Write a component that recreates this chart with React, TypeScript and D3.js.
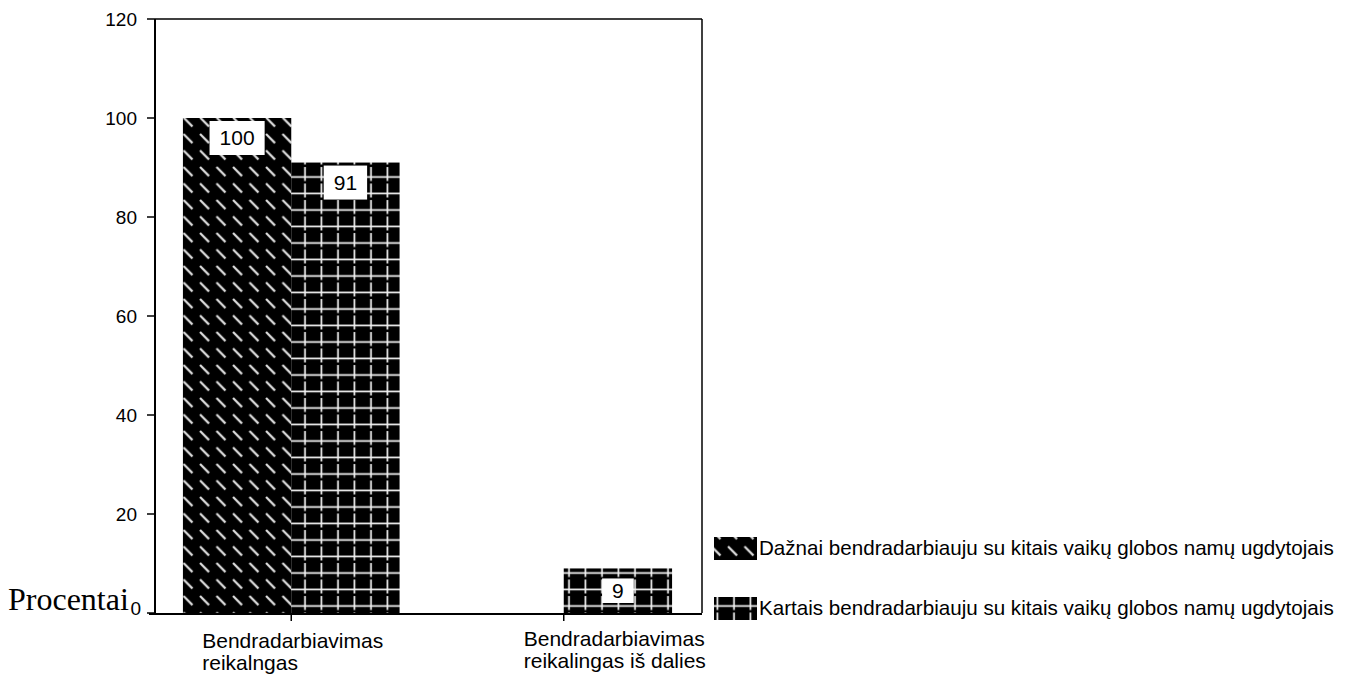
import React from 'react'
import * as d3 from 'd3'

const categories = [
    ['Bendradarbiavimas', 'reikalngas'],
    ['Bendradarbiavimas', 'reikalingas iš dalies'],
]
const seriesNames = [
    'Dažnai bendradarbiauju su kitais vaikų globos namų ugdytojais',
    'Kartais bendradarbiauju su kitais vaikų globos namų ugdytojais',
]
const seriesPatterns = ['diag', 'cross']
const daznai = [100, 0]
const kartais = [91, 9]
const yTicks = [0, 20, 40, 60, 80, 100, 120]
const yTitle = 'Procentai'

const W = 1356
const H = 674
const plot = { left: 155, right: 702, top: 19, bottom: 613 }
const font = 'Arial, "Liberation Sans", sans-serif'

export default function App() {
    const series = [daznai, kartais]
    const catKeys = categories.map((c, i) => `c${i}`)

    const x = d3.scaleBand<string>()
        .domain(catKeys)
        .range([plot.left, plot.right - 2])
        .paddingInner(0.205)
        .paddingOuter(0.1025)
    const xs = d3.scaleBand<number>()
        .domain(series.map((s, i) => i))
        .range([0, x.bandwidth()])
    const y = d3.scaleLinear().domain([0, 120]).range([plot.bottom, plot.top])

    // Excel-ish label placement, the two labels do not sit the same way
    const labelLeft = [-89, -40]
    const labelTop = [648, 646]

    return (
        <svg width={W} height={H} style={{ position: 'absolute', left: 0, top: 0, background: '#fff' }}>
            <defs>
                <pattern id="diag" patternUnits="userSpaceOnUse" width={16.5} height={16.5}>
                    <rect width={16.5} height={16.5} fill="#000" />
                    <line x1={2} y1={2} x2={11} y2={11} stroke="#e0e0e0" strokeWidth={2.2} />
                </pattern>
                <pattern id="cross" patternUnits="userSpaceOnUse" width={16.5} height={16.5}>
                    <rect width={16.5} height={16.5} fill="#000" />
                    <line x1={0} y1={12} x2={16.5} y2={12} stroke="#f4f4f4" strokeWidth={1.7} />
                    <line x1={8} y1={2} x2={8} y2={16} stroke="#f4f4f4" strokeWidth={1.7} />
                </pattern>
            </defs>

            {/* frame */}
            <line x1={plot.left} y1={plot.top} x2={plot.right} y2={plot.top} stroke="#000" strokeWidth={1.5} />
            <line x1={plot.right} y1={plot.top} x2={plot.right} y2={plot.bottom} stroke="#000" strokeWidth={1.5} />

            {/* bars */}
            {catKeys.map((k, ci) =>
                series.map((s, si) => {
                    const v = s[ci]
                    const bx = x(k)! + xs(si)!
                    const by = y(v)
                    const h = y(0) - by
                    return (
                        <rect key={`b${ci}-${si}`} x={bx} y={by} width={xs.bandwidth()} height={h}
                              fill={`url(#${seriesPatterns[si]})`} />
                    )
                })
            )}

            {/* value labels */}
            {catKeys.map((k, ci) =>
                series.map((s, si) => {
                    const v = s[ci]
                    if (v === 0) return null
                    const cx = x(k)! + xs(si)! + xs.bandwidth() / 2
                    const top = y(v)
                    const h = y(0) - top
                    const cy = h > 60 ? top + 20 : top + h / 2
                    const boxH = Math.min(34, h - 20)
                    const txt = String(v)
                    const boxW = txt.length * 11.7 + 20
                    return (
                        <g key={`l${ci}-${si}`}>
                            <rect x={cx - boxW / 2} y={cy - boxH / 2} width={boxW} height={boxH} fill="#fff" />
                            <text x={cx} y={cy} dy="0.35em" textAnchor="middle" fontFamily={font} fontSize={21}>{txt}</text>
                        </g>
                    )
                })
            )}

            {/* y axis */}
            <line x1={plot.left} y1={plot.top} x2={plot.left} y2={plot.bottom + 1} stroke="#000" strokeWidth={2} />
            {yTicks.map(t => (
                <g key={`t${t}`}>
                    <line x1={plot.left - 8} x2={plot.left} y1={y(t)} y2={y(t)} stroke="#000" strokeWidth={1.5} />
                    <text x={t === 0 ? plot.left - 14 : plot.left - 18} y={y(t)} dy={t === 0 ? '0.1em' : '0.35em'} textAnchor="end"
                          fontFamily={font} fontSize={19}>{t}</text>
                </g>
            ))}
            <text x={8} y={610} fontFamily='"Times New Roman", "Liberation Serif", serif' fontSize={32}>{yTitle}</text>

            {/* x axis */}
            <line x1={plot.left - 6} x2={plot.right} y1={y(0) + 1} y2={y(0) + 1} stroke="#000" strokeWidth={2} />
            {catKeys.map((k, ci) => {
                const cx = x(k)! + x.bandwidth() / 2
                return (
                    <g key={`x${ci}`}>
                        <line x1={cx} x2={cx} y1={y(0)} y2={y(0) + 8} stroke="#000" strokeWidth={1.5} />
                        {categories[ci].map((line, li) => (
                            <text key={li} x={cx + labelLeft[ci]} y={labelTop[ci] + li * 22}
                                  fontFamily={font} fontSize={21}>{line}</text>
                        ))}
                    </g>
                )
            })}

            {/* legend */}
            {seriesNames.map((name, i) => {
                const ly = 548 + i * 60
                return (
                    <g key={`lg${i}`}>
                        <rect x={714} y={ly - 11} width={43} height={23} fill={`url(#${seriesPatterns[i]})`} />
                        <text x={759} y={ly} dy="0.35em" fontFamily={font} fontSize={20.6}>{name}</text>
                    </g>
                )
            })}
        </svg>
    )
}
